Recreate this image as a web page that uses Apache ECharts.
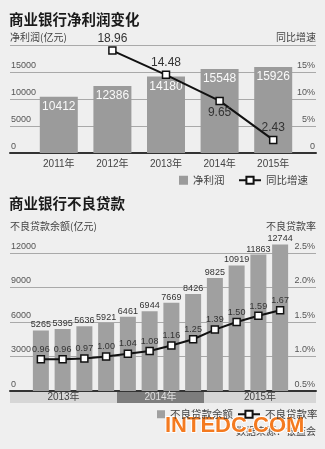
<!DOCTYPE html>
<html>
<head>
<meta charset="utf-8">
<script src="https://cdn.jsdelivr.net/npm/echarts@6/dist/echarts.min.js"></script>
<style>
html, body { margin: 0; padding: 0; background: #efefef; }
#chart { width: 325px; height: 449px; }
</style>
</head>
<body>
<div id="chart"></div>
<script>
// 商业银行净利润变化
const profitYears = ['2011年', '2012年', '2013年', '2014年', '2015年'];
const netProfit = [10412, 12386, 14180, 15548, 15926];          // 亿元
const profitGrowth = ['-', 18.96, 14.48, 9.65, 2.43];            // %
const growthLabelPos = [null, 'top', 'top', 'bottom', 'top'];

// 商业银行不良贷款
const nplYears = ['2013年', '2014年', '2015年'];
const quartersPerYear = ['Q1', 'Q2', 'Q3', 'Q4'];
const nplQuarters = nplYears.flatMap(() => quartersPerYear);
const nplBalance = [5265, 5395, 5636, 5921, 6461, 6944, 7669, 8426, 9825, 10919, 11863, 12744]; // 亿元
const nplRatio = [0.96, 0.96, 0.97, 1.00, 1.04, 1.08, 1.16, 1.25, 1.39, 1.50, 1.59, 1.67];     // %

// axis ranges
const profitAxis = { min: 0, max: 20000, interval: 5000 };
const growthAxis = { min: 0, max: 20, interval: 5 };
const balanceAxis = { min: 0, max: 12000, interval: 3000 };
const ratioAxis = { min: 0.5, max: 2.5, interval: 0.5 };

const FONT = "'Liberation Sans','Noto Sans CJK SC',sans-serif";
const CJK = "'Noto Sans CJK SC',sans-serif";

// layout
const W = 325;
const wideL = 10, wideR = 9;
const bar1L = 32, bar1R = 25;
const bar2L = 30, bar2R = 34;
const cat2W = (W - bar2L - bar2R) / nplQuarters.length;
const bandMin = (wideL - bar2L) / cat2W - 0.5;
const bandMax = (W - wideR - bar2L) / cat2W - 0.5;

const chart = echarts.init(document.getElementById('chart'), null, { renderer: 'canvas' });

const axisLineOnly = (gridIndex) => ({
  type: 'value', gridIndex, min: 0, max: 1,
  axisLine: { show: true, onZero: false, lineStyle: { color: '#333', width: 2 } },
  axisTick: { show: false }, axisLabel: { show: false }, splitLine: { show: false }
});

const insideLabel = (extra) => Object.assign({
  inside: true, verticalAlign: 'bottom', padding: [0, 0, 2, 0],
  fontSize: 9, color: '#555', fontFamily: FONT, margin: 1
}, extra);

const hiddenY = (gridIndex, r) => Object.assign({ type: 'value', gridIndex, show: false }, r);

// year bands under the quarter axis
const bandColors = ['#d6d6d6', '#7d7d7d', '#d6d6d6'];
const bandText = ['#444', '#e0e0e0', '#444'];
const bandAreas = nplYears.map((y, i) => {
  const start = i === 0 ? bandMin : i * quartersPerYear.length - 0.5;
  const end = i === nplYears.length - 1 ? bandMax : (i + 1) * quartersPerYear.length - 0.5;
  return [
    { name: y, xAxis: start, itemStyle: { color: bandColors[i] }, label: { color: bandText[i] } },
    { xAxis: end }
  ];
});

const option = {
  backgroundColor: '#efefef',
  animation: false,
  textStyle: { fontFamily: FONT },
  title: [
    { text: '商业银行净利润变化', left: 9, top: 12, padding: 0,
      textStyle: { fontSize: 14.5, fontWeight: 'bold', color: '#1a1a1a', fontFamily: CJK } },
    { text: '净利润(亿元)', left: 10, top: 32, padding: 0,
      textStyle: { fontSize: 10, fontWeight: 'normal', color: '#444', fontFamily: CJK } },
    { text: '同比增速', right: 9, top: 32, padding: 0,
      textStyle: { fontSize: 10, fontWeight: 'normal', color: '#444', fontFamily: CJK } },
    { text: '商业银行不良贷款', left: 9, top: 196, padding: 0,
      textStyle: { fontSize: 14.5, fontWeight: 'bold', color: '#1a1a1a', fontFamily: CJK } },
    { text: '不良贷款余额(亿元)', left: 10, top: 221, padding: 0,
      textStyle: { fontSize: 10, fontWeight: 'normal', color: '#444', fontFamily: CJK } },
    { text: '不良贷款率', right: 9, top: 221, padding: 0,
      textStyle: { fontSize: 10, fontWeight: 'normal', color: '#444', fontFamily: CJK } }
  ],
  legend: [
    { data: ['净利润'], left: 179, top: 175, padding: 0, itemWidth: 9, itemHeight: 9,
      icon: 'rect', textStyle: { fontSize: 10.5, color: '#444', fontFamily: CJK } },
    { data: ['同比增速'], left: 238, top: 175, padding: 0, itemWidth: 22, itemHeight: 9,
      textStyle: { fontSize: 10.5, color: '#444', fontFamily: CJK } },
    { data: ['不良贷款余额'], left: 157, top: 409, padding: 0, itemWidth: 8, itemHeight: 8,
      icon: 'rect', textStyle: { fontSize: 10.5, color: '#444', fontFamily: CJK } },
    { data: ['不良贷款率'], left: 237, top: 409, padding: 0, itemWidth: 22, itemHeight: 9,
      textStyle: { fontSize: 10.5, color: '#444', fontFamily: CJK } }
  ],
  grid: [
    { left: wideL, right: wideR, top: 45, height: 108 },
    { left: bar1L, right: bar1R, top: 45, height: 108 },
    { left: wideL, right: wideR, top: 253, height: 138 },
    { left: bar2L, right: bar2R, top: 253, height: 138 },
    { left: wideL, right: wideR, top: 392, height: 11 }
  ],
  xAxis: [
    axisLineOnly(0),
    { type: 'category', gridIndex: 1, data: profitYears,
      axisLine: { show: false }, axisTick: { show: false },
      axisLabel: { margin: 6, fontSize: 10, color: '#444', fontFamily: FONT } },
    axisLineOnly(2),
    { type: 'category', gridIndex: 3, data: nplQuarters,
      axisLine: { show: false }, axisTick: { show: false },
      axisLabel: { inside: true, margin: 2, fontSize: 10, color: '#ececec', fontFamily: FONT } },
    { type: 'value', gridIndex: 4, min: bandMin, max: bandMax, show: false }
  ],
  yAxis: [
    { type: 'value', gridIndex: 0, position: 'left', ...profitAxis,
      axisLine: { show: false }, axisTick: { show: false },
      splitLine: { lineStyle: { color: '#a9a9a9', width: 1 } },
      axisLabel: insideLabel({ align: 'left',
        formatter: v => (v === profitAxis.max ? '' : String(v)) }) },
    { type: 'value', gridIndex: 0, position: 'right', ...growthAxis,
      axisLine: { show: false }, axisTick: { show: false }, splitLine: { show: false },
      axisLabel: insideLabel({ align: 'right',
        formatter: v => (v === growthAxis.max ? '' : v === 0 ? '0' : v + '%') }) },
    hiddenY(1, profitAxis),
    hiddenY(1, growthAxis),
    { type: 'value', gridIndex: 2, position: 'left', ...balanceAxis,
      axisLine: { show: false }, axisTick: { show: false },
      splitLine: { lineStyle: { color: '#a9a9a9', width: 1 } },
      axisLabel: insideLabel({ align: 'left', formatter: v => String(v) }) },
    { type: 'value', gridIndex: 2, position: 'right', ...ratioAxis,
      axisLine: { show: false }, axisTick: { show: false }, splitLine: { show: false },
      axisLabel: insideLabel({ align: 'right', formatter: v => v.toFixed(1) + '%' }) },
    hiddenY(3, balanceAxis),
    hiddenY(3, ratioAxis),
    hiddenY(4, { min: 0, max: 1 })
  ],
  series: [
    {
      name: '净利润', type: 'bar', xAxisIndex: 1, yAxisIndex: 2,
      data: netProfit, barWidth: 38,
      itemStyle: { color: '#9b9b9b' },
      label: { show: true, position: 'insideTop', distance: 4,
        color: '#fafafa', fontSize: 12, fontFamily: FONT }
    },
    {
      name: '同比增速', type: 'line', xAxisIndex: 1, yAxisIndex: 3,
      data: profitGrowth.map((v, i) => ({ value: v, label: { position: growthLabelPos[i] || 'top' } })),
      symbol: 'rect', symbolSize: 7,
      itemStyle: { color: '#fff', borderColor: '#111', borderWidth: 1.5 },
      lineStyle: { color: '#111', width: 2 },
      label: { show: true, distance: 2, color: '#333', fontSize: 12, fontFamily: FONT,
        formatter: p => p.value.toFixed(2) }
    },
    {
      name: '不良贷款余额', type: 'bar', xAxisIndex: 3, yAxisIndex: 6,
      data: nplBalance, barWidth: 16, clip: false,
      itemStyle: { color: '#a0a0a0' },
      label: { show: true, position: 'top', distance: 1,
        color: '#333', fontSize: 9, fontFamily: FONT }
    },
    {
      name: '不良贷款率', type: 'line', xAxisIndex: 3, yAxisIndex: 7,
      data: nplRatio,
      symbol: 'rect', symbolSize: 7,
      itemStyle: { color: '#fff', borderColor: '#111', borderWidth: 1.5 },
      lineStyle: { color: '#111', width: 2 },
      label: { show: true, position: 'top', distance: 1, color: '#333', fontSize: 9,
        fontFamily: FONT, formatter: p => p.value.toFixed(2) }
    },
    {
      type: 'line', xAxisIndex: 4, yAxisIndex: 8, data: [], silent: true,
      markArea: {
        silent: true,
        label: { show: true, position: 'inside', fontSize: 10, fontFamily: FONT },
        data: bandAreas
      }
    }
  ],
  graphic: [
    { type: 'text', right: 9, top: 426, silent: true,
      style: { text: '数据来源：银监会', font: "10px 'Noto Sans CJK SC'", fill: '#444' } },
    { type: 'text', left: 164, top: 414, silent: true,
      style: { text: 'INTEDC.COM', font: "bold 22px 'Liberation Sans'", fill: '#f47a1f',
        stroke: '#ffffff', lineWidth: 2 } }
  ]
};

chart.setOption(option);
</script>
</body>
</html>
